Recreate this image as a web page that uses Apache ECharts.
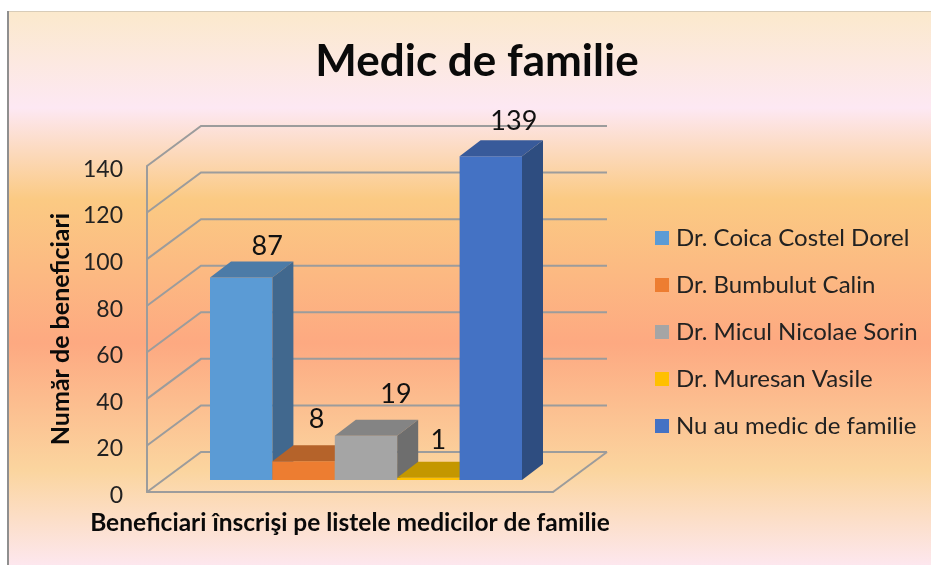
<!DOCTYPE html>
<html>
<head>
<meta charset="utf-8">
<style>
  html, body { margin: 0; padding: 0; background: #fff; }
  #myChart { width: 931px; height: 565px; }
</style>
<script src="https://cdn.jsdelivr.net/npm/echarts@6/dist/echarts.min.js"></script>
</head>
<body>
<div id="myChart"></div>
<script>
var categories = ['Beneficiari înscrişi pe listele medicilor de familie'];
var doctorNames = ['Dr. Coica Costel Dorel', 'Dr. Bumbulut Calin', 'Dr. Micul Nicolae Sorin', 'Dr. Muresan Vasile', 'Nu au medic de familie'];
var doctorValues = [87, 8, 19, 1, 139];
var tickValues = [0, 20, 40, 60, 80, 100, 120, 140];

// culori: fata, capac, lateral
var frontColors = ['#5b9bd5', '#ed7d31', '#a5a5a5', '#ffc000', '#4472c4'];
var topColors = ['#4c7ba7', '#b5632a', '#848484', '#c49700', '#385a9a'];
var sideColors = ['#41688e', '#9c5524', '#6e6e6e', '#a88200', '#2e4d80'];
// pozitia etichetelor fata de coltul din spate al barei
var labelNudge = [[26, -15], [13, -26], [30, -25], [10, -21], [23, -19]];

var FONT = 'Lato, Carlito, Calibri, sans-serif';
var LINE = '#9c9c9c';
var wallDx = 54, wallDy = 40; // adancimea podelei
var barDx = 21, barDy = 16; // adancimea barei
var floorDx = 16, floorDy = 12; // cat de departe de marginea din fata stau barele
var barWidth = 62.4;

function poly(pts, color) {
  return { type: 'polygon', shape: { points: pts }, style: { fill: color } };
}

function wallItem(params, api) {
  var cs = params.coordSys;
  var y = api.coord([0, api.value(0)])[1];
  var kids = [{
    type: 'polyline',
    shape: { points: [[cs.x, y], [cs.x + wallDx, y - wallDy], [cs.x + cs.width + wallDx, y - wallDy]] },
    style: { fill: null, stroke: LINE, lineWidth: 2 }
  }];
  if (api.value(0) === 0) {
    kids.push({
      type: 'line',
      shape: { x1: cs.x + cs.width, y1: y, x2: cs.x + cs.width + wallDx, y2: y - wallDy },
      style: { stroke: LINE, lineWidth: 2 }
    });
  }
  return { type: 'group', children: kids };
}

function barSeries(i) {
  return {
    name: doctorNames[i],
    type: 'custom',
    silent: true,
    z: 5 + i,
    itemStyle: { color: frontColors[i] },
    data: [[0, doctorValues[i]]],
    renderItem: function (params, api) {
      var base = api.coord([0, 0]);
      var top = api.coord([0, api.value(1)]);
      var x0 = base[0] - 2.5 * barWidth + i * barWidth + floorDx;
      var x1 = x0 + barWidth;
      var yB = base[1] - floorDy;
      var yT = top[1] - floorDy;
      return {
        type: 'group',
        children: [
          poly([[x0, yB], [x1, yB], [x1, yT], [x0, yT]], frontColors[i]),
          poly([[x0, yT], [x1, yT], [x1 + barDx, yT - barDy], [x0 + barDx, yT - barDy]], topColors[i]),
          poly([[x1, yB], [x1 + barDx, yB - barDy], [x1 + barDx, yT - barDy], [x1, yT]], sideColors[i]),
          {
            type: 'text',
            style: {
              text: String(api.value(1)),
              x: (x0 + x1) / 2 + labelNudge[i][0],
              y: yT - barDy + labelNudge[i][1],
              align: 'center',
              verticalAlign: 'middle',
              font: '27px ' + FONT,
              fill: '#111'
            }
          }
        ]
      };
    }
  };
}

var chartInst = echarts.init(document.getElementById('myChart'));
chartInst.setOption({
  animation: false,
  graphic: [
    {
      type: 'rect', z: -10, silent: true,
      shape: { x: 7, y: 11, width: 924, height: 554 },
      style: {
        fill: new echarts.graphic.LinearGradient(0, 0, 0, 1, [
          { offset: 0, color: '#fbe9cc' },
          { offset: 0.175, color: '#fde8f3' },
          { offset: 0.34, color: '#fbca83' },
          { offset: 0.6, color: '#fda981' },
          { offset: 0.83, color: '#fbd59f' },
          { offset: 1, color: '#fde7ee' }
        ])
      }
    },
    { type: 'rect', z: -9, silent: true, shape: { x: 7, y: 11, width: 2, height: 554 }, style: { fill: '#8f8f8f' } },
    { type: 'rect', z: -9, silent: true, shape: { x: 9, y: 11, width: 922, height: 1 }, style: { fill: '#d8ccb8' } }
  ],
  title: {
    text: 'Medic de familie',
    left: 472,
    top: 35,
    textAlign: 'center',
    textStyle: { fontFamily: FONT, fontSize: 44, fontWeight: 'bold', color: '#0a0a0a' }
  },
  legend: {
    data: doctorNames,
    orient: 'vertical',
    left: 650,
    top: 221,
    icon: 'rect',
    itemWidth: 14,
    itemHeight: 14,
    itemGap: 23,
    selectedMode: false,
    textStyle: { fontFamily: FONT, fontSize: 24, color: '#222', padding: [0, 0, 0, 2], lineHeight: 22 }
  },
  grid: { left: 147, top: 166, width: 406, height: 326 },
  xAxis: {
    type: 'category',
    data: categories,
    axisTick: { show: false },
    axisLabel: { show: false },
    axisLine: { show: true, lineStyle: { color: LINE, width: 2 } },
    name: categories[0],
    nameLocation: 'middle',
    nameGap: 19,
    nameTextStyle: { fontFamily: FONT, fontSize: 24.5, fontWeight: 'bold', color: '#0a0a0a' },
    silent: true
  },
  yAxis: {
    type: 'value',
    min: 0,
    max: 140,
    interval: 20,
    axisTick: { show: false },
    splitLine: { show: false },
    axisLine: { show: true, lineStyle: { color: LINE, width: 2 } },
    axisLabel: {
      margin: 24,
      formatter: '{v|{value}}',
      rich: {
        v: { fontFamily: FONT, fontSize: 23, color: '#222', padding: [7, 0, 0, 0] }
      }
    },
    name: 'Număr de beneficiari',
    nameLocation: 'middle',
    nameRotate: 90,
    nameGap: 74,
    nameTextStyle: { fontFamily: FONT, fontSize: 25, fontWeight: 'bold', color: '#0a0a0a' },
    silent: true
  },
  series: [
    {
      name: 'grid',
      type: 'custom',
      silent: true,
      z: 1,
      data: tickValues.map(function (v) { return [v]; }),
      encode: { y: 0 },
      renderItem: wallItem
    }
  ].concat(doctorNames.map(function (n, i) { return barSeries(i); }))
});
</script>
</body>
</html>
